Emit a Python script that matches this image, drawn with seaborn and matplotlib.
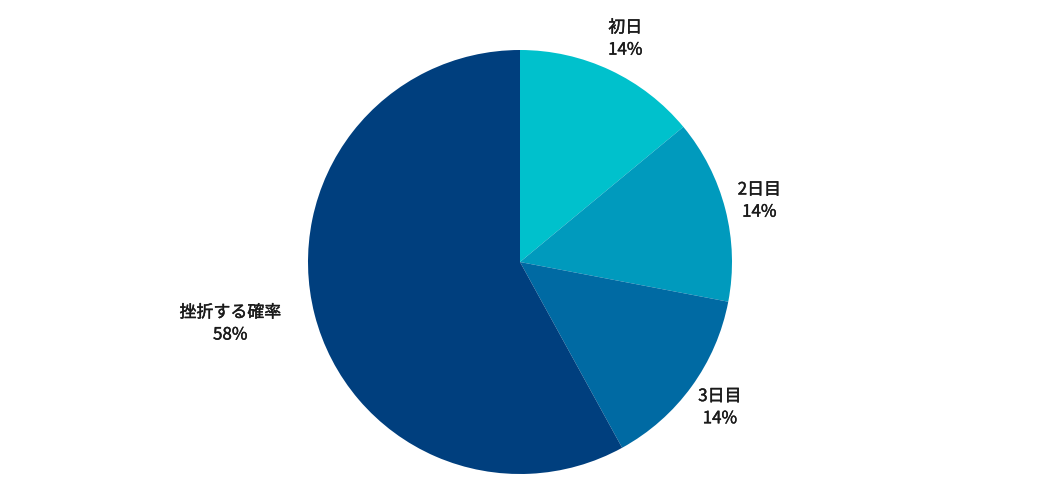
import seaborn as sns
import matplotlib.pyplot as plt
import matplotlib.patheffects as pe

labels = ['初日', '2日目', '3日目', '挫折する確率']
values = [14, 14, 14, 58]
colors = ['#00C1CC', '#009ABD', '#006AA3', '#003F7E']

sns.set_theme(style='white')
plt.rcParams['font.family'] = ['Noto Sans CJK JP', 'DejaVu Sans']

fig = plt.figure(figsize=(10.5, 5.04), dpi=100)
# pie centre at about (520, 262) px, radius about 212 px
ax = fig.add_axes([308 / 1050, 30 / 504, 424 / 1050, 424 / 504])

texts = [f'{l}\n{v}%' for l, v in zip(labels, values)]
wedges, txt = ax.pie(values, labels=texts, colors=sns.color_palette(colors),
                     startangle=90, counterclock=False, labeldistance=1.165,
                     wedgeprops={'linewidth': 0},
                     textprops={'fontsize': 12.2, 'fontweight': 'normal',
                                'color': '#1a1a1a', 'linespacing': 1.3})
for t in txt:
    t.set_multialignment('center')
    x, y = t.get_position()
    # labels on the left side hang off to the left of their anchor
    t.set_ha('right' if x < -0.5 else 'center')
    # a touch heavier than regular, like the medium weight in the original
    t.set_path_effects([pe.withStroke(linewidth=0.3, foreground='#1a1a1a')])
ax.set_xlim(-1, 1)
ax.set_ylim(-1, 1)
ax.set_aspect('equal')
ax.axis('off')

fig.savefig('out.png', dpi=100)
